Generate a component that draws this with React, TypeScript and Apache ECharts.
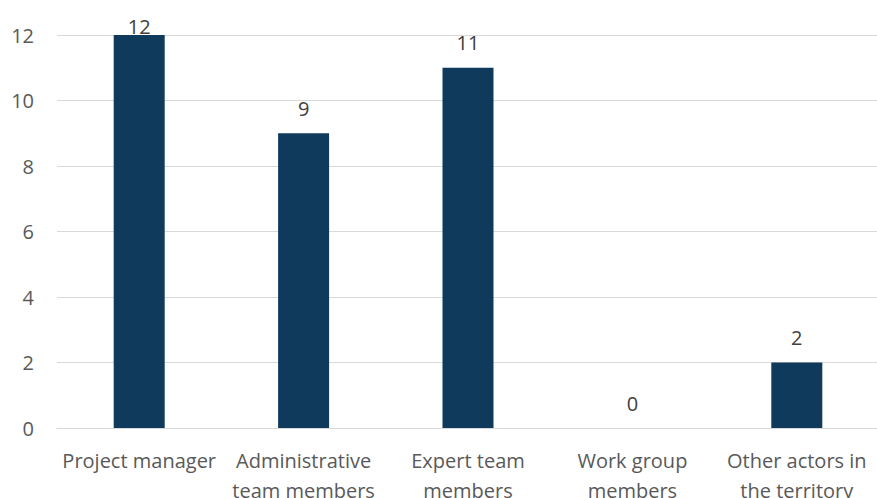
import React, { useEffect, useRef } from "react";
import * as echarts from "echarts";

const categories = [
  "Project manager",
  "Administrative\nteam members",
  "Expert team\nmembers",
  "Work group\nmembers",
  "Other actors in\nthe territory",
];
const values = [12, 9, 11, 0, 2];
const yTicks = { min: 0, max: 12, interval: 2 };

const FONT = "'Open Sans', 'Noto Sans', sans-serif";
const TEXT = "#595959";

export default function App() {
  const ref = useRef<HTMLDivElement>(null);
  useEffect(() => {
    if (!ref.current) return;
    const chart = echarts.init(ref.current, null, { renderer: "svg" });
    const data = values.map((v) =>
      v >= yTicks.max ? { value: v, label: { distance: -1 } } : { value: v }
    );
    chart.setOption({
      animation: false,
      backgroundColor: "#ffffff",
      grid: {
        left: 57,
        top: 35,
        width: 822,
        height: 393,
        containLabel: false,
        outerBoundsMode: "none",
      },
      xAxis: {
        type: "category",
        data: categories,
        axisLine: { show: true, lineStyle: { color: "#d9d9d9", width: 1 } },
        axisTick: { show: false },
        axisLabel: {
          color: TEXT,
          fontFamily: FONT,
          fontSize: 20,
          lineHeight: 30,
          margin: 17,
          interval: 0,
        },
      },
      yAxis: {
        type: "value",
        min: yTicks.min,
        max: yTicks.max,
        interval: yTicks.interval,
        axisLine: { show: false },
        axisTick: { show: false },
        splitLine: { lineStyle: { color: "#d9d9d9", width: 1 } },
        axisLabel: { color: TEXT, fontFamily: FONT, fontSize: 20, margin: 23 },
      },
      series: [
        {
          type: "bar",
          data,
          barWidth: 51,
          itemStyle: { color: "#0f3a5c" },
          label: {
            show: true,
            position: "top",
            distance: 15,
            color: "#404040",
            fontFamily: FONT,
            fontSize: 20,
          },
        },
      ],
    });
    return () => chart.dispose();
  }, []);
  return (
    <div
      ref={ref}
      style={{ position: "fixed", left: 0, top: 0, width: 877, height: 498, background: "#fff" }}
    />
  );
}
